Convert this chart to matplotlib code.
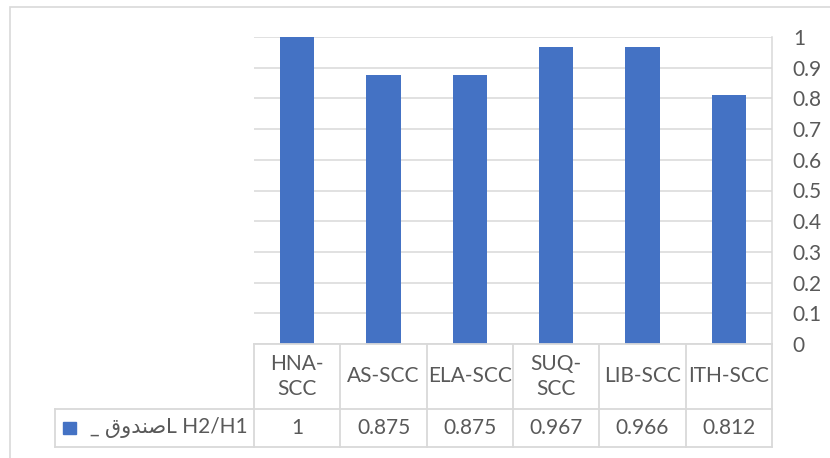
import matplotlib.pyplot as plt
from matplotlib.patches import Rectangle

# data
categories = ['HNA-SCC', 'AS-SCC', 'ELA-SCC', 'SUQ-SCC', 'LIB-SCC', 'ITH-SCC']
header_labels = ['HNA-\nSCC', 'AS-SCC', 'ELA-SCC', 'SUQ-\nSCC', 'LIB-SCC', 'ITH-SCC']
values = [1, 0.875, 0.875, 0.967, 0.966, 0.812]
value_labels = ['1', '0.875', '0.875', '0.967', '0.966', '0.812']
y_ticks = [0, 0.1, 0.2, 0.3, 0.4, 0.5, 0.6, 0.7, 0.8, 0.9, 1]
y_tick_labels = ['0', '0.1', '0.2', '0.3', '0.4', '0.5', '0.6', '0.7', '0.8', '0.9', '1']
# series name, Arabic word written in visual order with presentation forms
series_name = '_ \ufed5\ufeed\ufeaa\ufee8\ufebbL H2/H1'

plt.rcParams['font.family'] = ['Lato', 'DejaVu Sans']
BLUE = '#4472C4'
GRID = '#d9d9d9'
TXT = '#595959'
FS = 15

W, H = 830, 458
fig = plt.figure(figsize=(W / 100, H / 100), dpi=100)

# outer chart border (right/bottom edges fall outside the crop)
fig.add_artist(Rectangle((10 / W, -0.1), 1.2, 1 - 7 / H + 0.1, transform=fig.transFigure,
                         fill=False, edgecolor=GRID, lw=1.2))

# plot area in pixels
px_l, px_r, px_t, px_b = 254, 772, 37, 344
ax = fig.add_axes([px_l / W, 1 - px_b / H, (px_r - px_l) / W, (px_b - px_t) / H])
x = range(len(categories))
ax.bar(x, values, width=0.4, color=BLUE, zorder=3)
ax.set_xlim(-0.5, len(categories) - 0.5)
ax.set_ylim(0, 1)
ax.set_yticks(y_ticks)
ax.set_yticklabels(y_tick_labels, fontsize=FS, color=TXT, ha='left')
ax.yaxis.tick_right()
ax.tick_params(axis='y', length=0, pad=15)
ax.set_xticks([])
ax.grid(axis='y', color=GRID, lw=1.1, zorder=0)
for s in ['left', 'top', 'bottom']:
    ax.spines[s].set_visible(False)
ax.spines['right'].set_color(GRID)
ax.spines['right'].set_linewidth(1.1)

# data table below the plot
tb_l, tb_b = 55, 447
cat_w = (px_r - px_l) / len(categories)
left_units = (px_l - tb_l) / cat_w
tax = fig.add_axes([tb_l / W, 1 - tb_b / H, (px_r - tb_l) / W, (tb_b - px_b) / H])
x0 = -0.5 - left_units
x1 = len(categories) - 0.5
tax.set_xlim(x0, x1)
tax.set_ylim(tb_b, px_b)
tax.axis('off')
row_split = 409
lk = dict(color=GRID, lw=1.3, clip_on=False)
tax.plot([-0.5, x1], [px_b, px_b], **lk)
tax.plot([x0, x1], [row_split, row_split], **lk)
tax.plot([x0, x1], [tb_b, tb_b], **lk)
tax.plot([x0, x0], [row_split, tb_b], **lk)
for i in range(len(categories) + 1):
    tax.plot([i - 0.5, i - 0.5], [px_b, tb_b], **lk)

for i, (lab, v) in enumerate(zip(header_labels, value_labels)):
    tax.text(i, (px_b + row_split) / 2, lab, ha='center', va='center',
             fontsize=FS, color=TXT, linespacing=1.3)
    tax.text(i, (row_split + tb_b) / 2, v, ha='center', va='center',
             fontsize=FS, color=TXT)

# legend key in the row header
sq = 13 / cat_w
tax.add_patch(Rectangle((x0 + 8 / cat_w, 434), sq, -12, color=BLUE, clip_on=False))
tax.text(-0.5 - 6 / cat_w, (row_split + tb_b) / 2, series_name, ha='right', va='center',
         fontsize=FS, color=TXT)

fig.savefig('out.png', dpi=100)
